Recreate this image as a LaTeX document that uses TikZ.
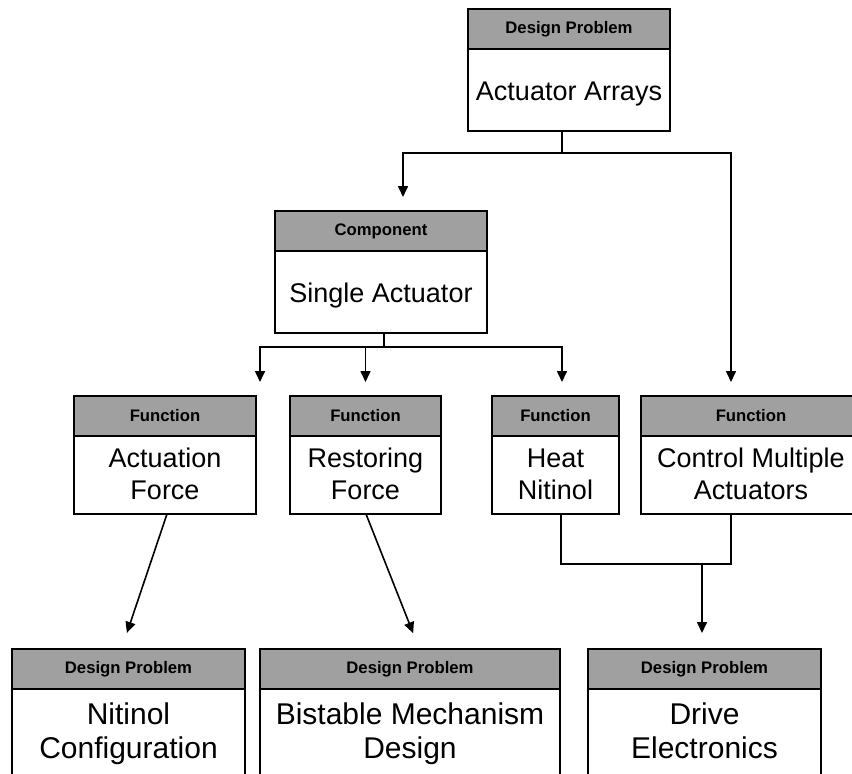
\documentclass[tikz,border=0pt]{standalone}
\usepackage{fontspec}
\setmainfont{Liberation Sans}
\usetikzlibrary{arrows.meta,positioning}
\definecolor{grisbarra}{RGB}{160,160,160}
\tikzset{
  cabecera/.style={rectangle,draw=black,line width=2pt,fill=grisbarra,outer sep=0pt,inner sep=0pt,
    minimum height=40pt,font=\fontsize{16.7}{18}\selectfont\bfseries},
  cuerpo/.style={rectangle,draw=black,line width=2pt,fill=white,outer sep=0pt,inner sep=0pt,
    align=center,font=\fontsize{27}{32}\selectfont,
    execute at begin node=\rule[-2pt]{0pt}{28pt},execute at end node=\rule[-2pt]{0pt}{28pt}},
  cuerpog/.style={cuerpo,font=\fontsize{30}{34}\selectfont,
    execute at begin node=\rule[-8pt]{0pt}{34pt},execute at end node=\rule[-8pt]{0pt}{34pt}},
  linea/.style={black,line width=1.6pt},
  flecha/.style={linea,-{Triangle[length=11pt,width=10pt]},shorten >=14pt},
}
\begin{document}
\begin{tikzpicture}[x=1pt,y=-1pt]
    \useasboundingbox (0,0) rectangle (852,774);
    % design problem at the top
    \node[cabecera,minimum width=202pt] (aah) at (569,29) {Design Problem};
    \node[cuerpo,minimum width=202pt,minimum height=82pt,below=0pt of aah] (aa) {Actuator Arrays};
    % component
    \node[cabecera,minimum width=212pt] (sah) at (381,231) {Component};
    \node[cuerpo,minimum width=212pt,minimum height=82pt,below=0pt of sah] (sa) {Single Actuator};
    % functions
    \node[cabecera,minimum width=182pt] (afh) at (165,416) {Function};
    \node[cabecera,minimum width=151pt,right=34pt of afh] (rfh) {Function};
    \node[cabecera,minimum width=127pt,right=51pt of rfh] (hnh) {Function};
    \node[cabecera,minimum width=220pt,right=22pt of hnh] (cmh) {Function};
    \node[cuerpo,minimum width=182pt,minimum height=78pt,below=0pt of afh] (af) {Actuation\\Force};
    \node[cuerpo,minimum width=151pt,minimum height=78pt,below=0pt of rfh] (rf) {Restoring\\Force};
    \node[cuerpo,minimum width=127pt,minimum height=78pt,below=0pt of hnh] (hn) {Heat\\Nitinol};
    \node[cuerpo,minimum width=220pt,minimum height=78pt,below=0pt of cmh] (cm) {Control Multiple\\Actuators};
    % design problems at the bottom
    \node[cabecera,minimum width=233pt] (nch) at (128.5,669) {Design Problem};
    \node[cabecera,minimum width=300pt,right=15pt of nch] (bmh) {Design Problem};
    \node[cabecera,minimum width=233pt,right=28pt of bmh] (deh) {Design Problem};
    \node[cuerpog,minimum width=233pt,minimum height=92pt,below=0pt of nch] (nc) {Nitinol\\Configuration};
    \node[cuerpog,minimum width=300pt,minimum height=92pt,below=0pt of bmh] (bm) {Bistable Mechanism\\Design};
    \node[cuerpog,minimum width=233pt,minimum height=92pt,below=0pt of deh] (de) {Drive\\Electronics};
    % connectors
    \coordinate (k1) at (562,153);
    \coordinate (k2) at (384,347);
    \coordinate (k3) at (702,564);
    \draw[linea] ([xshift=-7pt]aa.south) -- (k1);
    \draw[flecha] (k1) -| ([xshift=22pt]sah.north);
    \draw[flecha] (k1) -| ([xshift=-20pt]cmh.north);
    \draw[linea] ([xshift=3pt]sa.south) -- (k2);
    \draw[flecha] (k2) -| ([xshift=95pt]afh.north);
    \draw[flecha] (k2) -| (rfh.north);
    \draw[flecha] (k2) -| ([xshift=6.5pt]hnh.north);
    \draw[flecha,shorten >=17pt] ([xshift=2pt]af.south) -- ([xshift=-7pt]nch.north);
    \draw[flecha,shorten >=17pt] ([xshift=0.5pt]rf.south) -- ([xshift=9.4pt]bmh.north);
    \draw[linea] ([xshift=5.5pt]hn.south) |- (k3);
    \draw[linea] ([xshift=-20pt]cm.south) |- (k3);
    \draw[flecha,shorten >=16pt] (k3) -- (k3 |- deh.north);
\end{tikzpicture}
\end{document}
